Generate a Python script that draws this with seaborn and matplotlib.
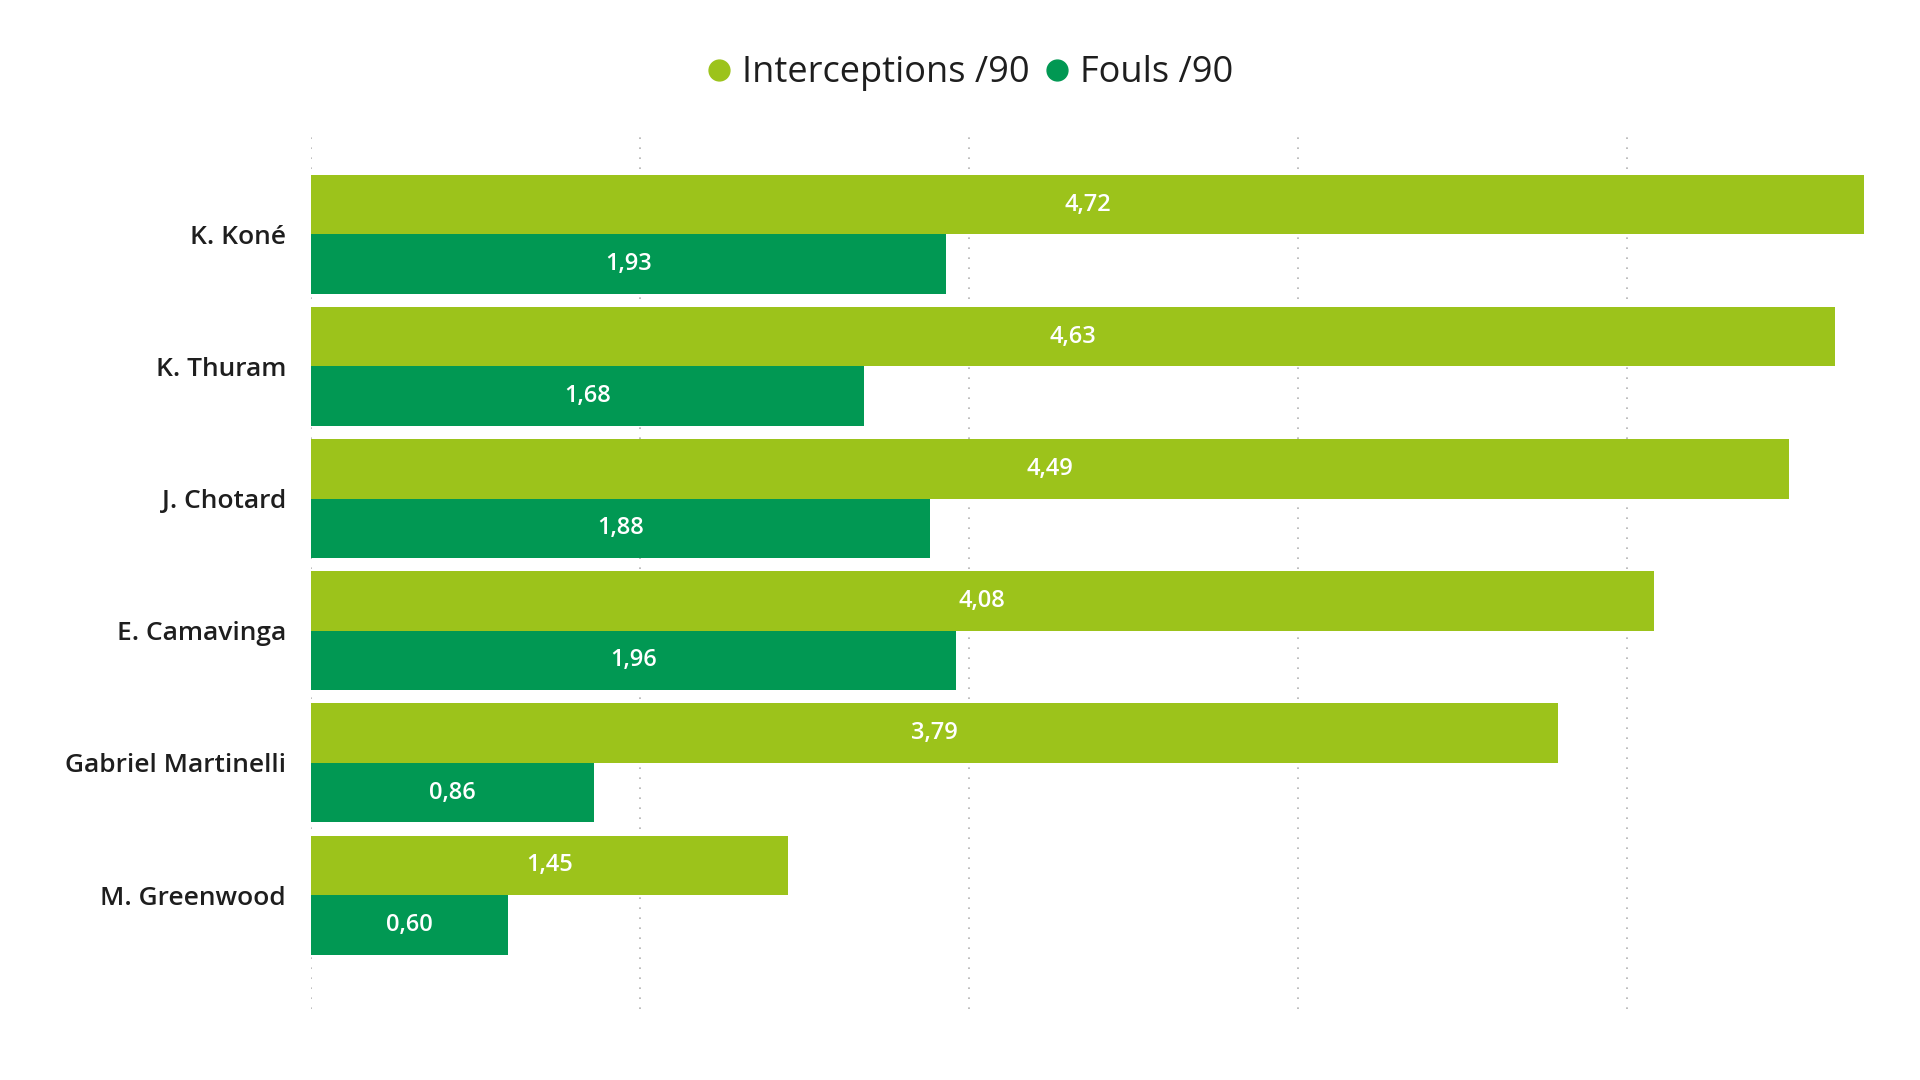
import pandas as pd
import seaborn as sns
import matplotlib.pyplot as plt
from matplotlib.lines import Line2D

players = ["K. Koné", "K. Thuram", "J. Chotard", "E. Camavinga",
           "Gabriel Martinelli", "M. Greenwood"]
interceptions = [4.72, 4.63, 4.49, 4.08, 3.79, 1.45]
fouls = [1.93, 1.68, 1.88, 1.96, 0.86, 0.60]
series = ["Interceptions /90", "Fouls /90"]
colors = ["#9CC31B", "#019853"]

df = pd.DataFrame({
    "player": players * 2,
    "metric": [series[0]] * len(players) + [series[1]] * len(players),
    "value": interceptions + fouls,
})

sns.set_theme()
sns.set_style("white")
plt.rcParams["font.family"] = ["Open Sans", "DejaVu Sans"]

fig = plt.figure(figsize=(19.2, 10.8), dpi=100)
ax = fig.add_axes([0.162, 0.066, 0.809, 0.815])

sns.barplot(
    data=df, x="value", y="player", hue="metric", order=players,
    hue_order=series, palette=colors, saturation=1, width=0.9,
    orient="h", linewidth=0, ax=ax,
)

for cont in ax.containers:
    ax.bar_label(
        cont,
        labels=[f"{b.get_width():.2f}".replace(".", ",") for b in cont],
        label_type="center", color="white", fontsize=17, fontweight="semibold",
    )

ax.set_xlim(0, 4.72)
ax.set_ylim(5.86, -0.8)
ax.set_xticks([0, 1, 2, 3, 4])
ax.set_xticklabels([])
ax.xaxis.grid(True, linestyle=(0, (1, 5)), color="#B3B3B3", linewidth=1.2)
ax.yaxis.grid(False)
ax.set_xlabel("")
ax.set_ylabel("")
ax.tick_params(axis="y", length=0, pad=18, labelsize=19, labelcolor="#1E1E1E")
for lab in ax.get_yticklabels():
    lab.set_fontweight("semibold")
ax.tick_params(axis="x", length=0)
for s in ax.spines.values():
    s.set_visible(False)

if ax.get_legend() is not None:
    ax.get_legend().remove()

handles = [Line2D([], [], marker="o", linestyle="", color=c, markersize=15)
           for c in colors]
fig.legend(
    handles, series, loc="center", bbox_to_anchor=(0.499, 0.932),
    ncol=2, frameon=False, fontsize=26, handletextpad=-0.35,
    columnspacing=-0.25, labelcolor="#1E1E1E",
)

fig.savefig("out.png", dpi=100)
